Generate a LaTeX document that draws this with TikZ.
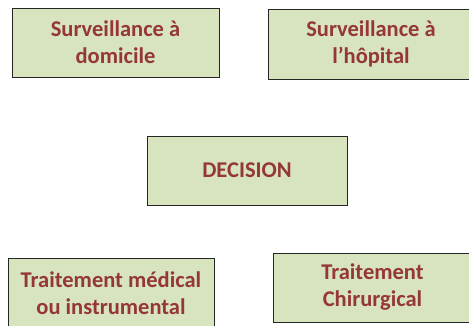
\documentclass[tikz,border=0pt]{standalone}
\usepackage{fontspec}
\setmainfont{Carlito}
\definecolor{boxfill}{HTML}{D7E4BD}
\definecolor{boxtext}{HTML}{953735}
\begin{document}
\begin{tikzpicture}[x=1pt,y=1pt,
  choice/.style={draw=black!85, line width=1pt, fill=boxfill, rectangle,
    inner sep=0pt, align=center, text=boxtext,
    font=\fontsize{22.5}{27}\selectfont\bfseries},
  ]
\useasboundingbox (0,0) rectangle (469,325);
\clip (0,0) rectangle (469,325);
\node[choice, minimum width=207, minimum height=69] (dom) at (115.5,282.5) {Surveillance à\\domicile};
\node[choice, minimum width=206, minimum height=70] (hop) at (371,281) {Surveillance à\\l’hôpital};
\node[choice, minimum width=200, minimum height=69] (dec) at (247,154.5) {DECISION};
\node[choice, minimum width=206, minimum height=70] (med) at (111,32) {Traitement médical\\ou instrumental};
\node[choice, minimum width=199, minimum height=69] (chi) at (372.5,37.5) {Traitement\\Chirurgical};
\end{tikzpicture}
\end{document}
